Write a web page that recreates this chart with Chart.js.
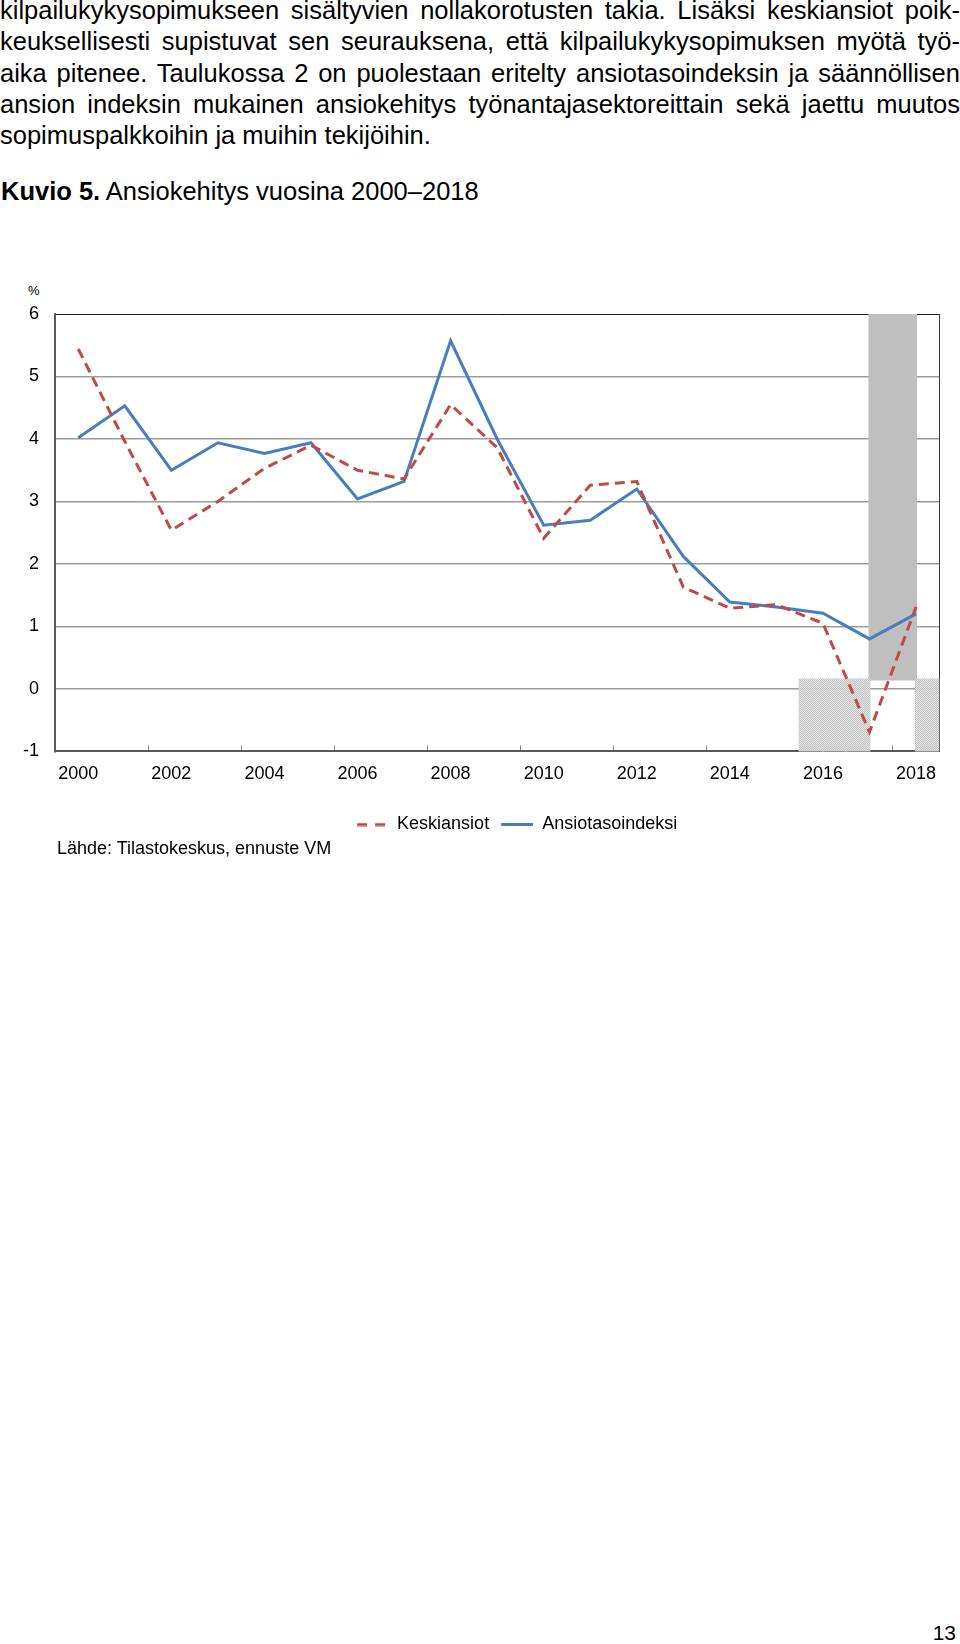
<!DOCTYPE html>
<html lang="fi">
<head>
  <meta charset="UTF-8">
  <title>Kuvio 5. Ansiokehitys vuosina 2000–2018</title>
  <script src="https://cdn.jsdelivr.net/npm/chart.js"></script>
  <style>
    body { margin: 0; width: 960px; height: 1644px; position: relative; overflow: hidden; background: #fff;
           font-family: 'Liberation Sans', Arial, sans-serif; color: #000; }
    #para { position: absolute; left: 0; top: -5px; width: 960px; font-size: 25.5px; line-height: 31.3px; }
    #para .j { text-align: justify; text-align-last: justify; }
    #otsikko { position: absolute; left: 1px; top: 176px; font-size: 25.5px; line-height: 31.3px; white-space: nowrap; }
    #pros { position: absolute; left: 28px; top: 283px; font-size: 13px; line-height: 15px; }
    #lahde { position: absolute; left: 57px; top: 837px; font-size: 18px; line-height: 22px; white-space: nowrap; }
    #sivu { position: absolute; right: 4px; top: 1621px; font-size: 21px; line-height: 24px; }
    #kuvio { position: absolute; left: 0; top: 250px; }
  </style>
</head>
<body>
  <!-- tekstikappale kuvion yläpuolella -->
  <div id="para">
    <div class="j">kilpailukykysopimukseen sisältyvien nollakorotusten takia. Lisäksi keskiansiot poik-</div>
    <div class="j">keuksellisesti supistuvat sen seurauksena, että kilpailukykysopimuksen myötä työ-</div>
    <div class="j">aika pitenee. Taulukossa 2 on puolestaan eritelty ansiotasoindeksin ja säännöllisen</div>
    <div class="j">ansion indeksin mukainen ansiokehitys työnantajasektoreittain sekä jaettu muutos</div>
    <div>sopimuspalkkoihin ja muihin tekijöihin.</div>
  </div>
  <div id="otsikko"><b>Kuvio 5.</b> Ansiokehitys vuosina 2000–2018</div>

  <div id="pros">%</div>
  <canvas id="kuvio" width="960" height="620"></canvas>
  <div id="lahde">Lähde: Tilastokeskus, ennuste VM</div>
  <div id="sivu">13</div>

  <script>
    // vuodet ja sarjat (%)
    const years = ['2000', '2001', '2002', '2003', '2004', '2005', '2006', '2007', '2008', '2009',
                   '2010', '2011', '2012', '2013', '2014', '2015', '2016', '2017', '2018'];
    const keskiansiot = [5.44, 3.96, 2.54, 3.0, 3.53, 3.9, 3.5, 3.36, 4.55, 3.86,
                         2.41, 3.26, 3.32, 1.63, 1.29, 1.35, 1.05, -0.69, 1.31];
    const ansiotasoindeksi = [4.02, 4.53, 3.5, 3.94, 3.77, 3.94, 3.04, 3.32, 5.57, 4.0,
                              2.62, 2.7, 3.2, 2.12, 1.39, 1.31, 1.21, 0.8, 1.2];

    const yMin = -1, yMax = 6, yStep = 1;

    // ennustevuosien varjostus puolivuoden lokeroina (a = alkupuoli, b = loppupuoli)
    const halfSlots = years.flatMap(y => [y + 'a', y + 'b']);
    const lightSlots = ['2016a', '2016b', '2017a', '2018b'];
    const darkSlots = ['2017b', '2018a'];
    const shadeSplit = 0.15;

    const RED = '#BE4B48', BLUE = '#4A7EBB';
    const FONT = "'Liberation Sans', Arial, sans-serif";
    Chart.defaults.font.family = FONT;
    Chart.defaults.color = '#000';

    const ctx = document.getElementById('kuvio').getContext('2d');

    function dotPattern() {
      const c = document.createElement('canvas');
      c.width = 2; c.height = 2;
      const g = c.getContext('2d');
      g.fillStyle = 'rgba(228,228,228,0.9)';
      g.fillRect(0, 0, 2, 2);
      g.fillStyle = 'rgba(188,188,188,0.9)';
      g.fillRect(0, 0, 1, 1);
      g.fillRect(1, 1, 1, 1);
      return ctx.createPattern(c, 'repeat');
    }

    // katkoviivainen legendamerkki (pointStyle 'line' ei käytä katkoviivaa)
    function dashSample(color) {
      const c = document.createElement('canvas');
      c.width = 32; c.height = 4;
      const g = c.getContext('2d');
      g.strokeStyle = color;
      g.lineWidth = 3;
      g.setLineDash([10, 8]);
      g.beginPath();
      g.moveTo(1, 2); g.lineTo(32, 2);
      g.stroke();
      return c;
    }

    // legenda siirretään oikealle kuten alkuperäisessä
    const legendShift = {
      id: 'legendShift',
      afterLayout(chart) {
        const l = chart.legend;
        l.left += 47; l.right += 47;
        l.top += 0.5; l.bottom += 0.5;
      }
    };

    new Chart(ctx, {
      data: {
        labels: years,
        datasets: [
          {
            type: 'line',
            label: 'Keskiansiot',
            data: keskiansiot,
            borderColor: RED,
            backgroundColor: RED,
            borderWidth: 3,
            borderDash: [10, 6],
            pointRadius: 0,
            pointStyle: dashSample(RED),
            tension: 0,
            xAxisID: 'x', yAxisID: 'y',
            order: 0
          },
          {
            type: 'line',
            label: 'Ansiotasoindeksi',
            data: ansiotasoindeksi,
            borderColor: BLUE,
            backgroundColor: BLUE,
            borderWidth: 3,
            pointRadius: 0,
            pointStyle: 'line',
            tension: 0,
            xAxisID: 'x', yAxisID: 'y',
            order: 1
          },
          {
            type: 'bar',
            label: 'ennuste',
            data: halfSlots.map(s => lightSlots.includes(s) ? [yMin, shadeSplit] : null),
            backgroundColor: dotPattern(),
            borderWidth: 0,
            barPercentage: 1, categoryPercentage: 1,
            grouped: false, inflateAmount: 1,
            xAxisID: 'x2', yAxisID: 'y',
            order: 2
          },
          {
            type: 'bar',
            label: 'ennuste2',
            data: halfSlots.map(s => darkSlots.includes(s) ? [shadeSplit, yMax] : null),
            backgroundColor: '#BFBFBF',
            borderWidth: 0,
            barPercentage: 1, categoryPercentage: 1,
            grouped: false, inflateAmount: 1,
            xAxisID: 'x2', yAxisID: 'y',
            order: 2
          }
        ]
      },
      options: {
        responsive: false,
        animation: false,
        layout: { padding: { top: 64, right: 20.7, left: 0, bottom: 27 } },
        plugins: {
          tooltip: { enabled: false },
          title: { display: false },
          legend: {
            position: 'bottom',
            labels: {
              filter: item => item.datasetIndex < 2,
              usePointStyle: true,
              pointStyleWidth: 32,
              padding: 12,
              color: '#000',
              font: { size: 18 }
            }
          }
        },
        scales: {
          x: {
            type: 'category',
            offset: true,
            grid: {
              offset: true,
              drawOnChartArea: false,
              drawTicks: true,
              tickLength: -6,
              color: c => c.index % 2 === 0 ? '#7F7F7F' : 'rgba(0,0,0,0)',
              lineWidth: 1
            },
            border: { color: '#595959', width: 2 },
            ticks: {
              autoSkip: false,
              maxRotation: 0,
              padding: 18,
              color: '#000',
              font: { size: 18 },
              callback: (v, i) => i % 2 === 0 ? years[i] : ''
            }
          },
          x2: {
            type: 'category',
            labels: halfSlots,
            display: false,
            offset: true
          },
          y: {
            min: yMin, max: yMax,
            ticks: { stepSize: yStep, padding: 16, color: '#000', font: { size: 18 } },
            grid: {
              drawTicks: false,
              color: c => c.tick.value === yMax ? '#1A1A1A' : (c.tick.value === yMin ? 'rgba(0,0,0,0)' : '#9C9C9C'),
              lineWidth: c => c.tick.value === yMax ? 1 : 1.5
            },
            border: { color: '#595959', width: 2 },
            afterFit: s => { s.width = 55; }
          },
          y2: {
            position: 'right',
            min: yMin, max: yMax,
            ticks: { display: false },
            grid: { display: false, drawTicks: false },
            border: { display: true, color: '#3A3A3A', width: 1 }
          }
        }
      },
      plugins: [legendShift]
    });
  </script>
</body>
</html>
